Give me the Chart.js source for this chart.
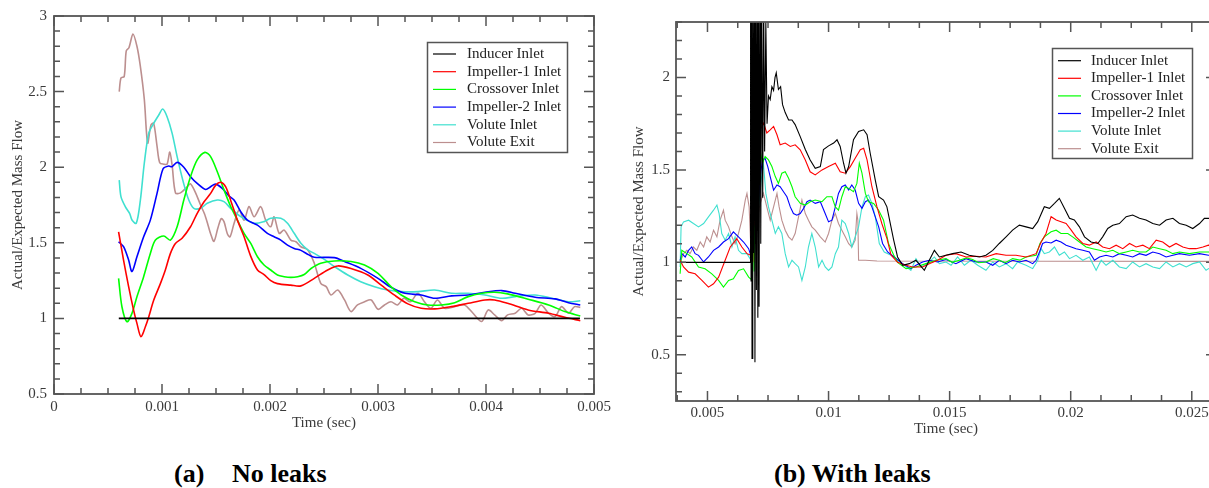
<!DOCTYPE html>
<html>
<head>
<meta charset="utf-8">
<title>Mass flow ratio</title>
<script src="https://cdn.jsdelivr.net/npm/chart.js@4.4.0/dist/chart.umd.min.js"></script>
<style>
  html, body { margin: 0; padding: 0; background: #fff; width: 1209px; height: 488px; overflow: hidden; }
  .panel { position: absolute; top: 0; width: 620px; height: 440px; }
  #panelA { left: 0; }
  #panelB { left: 620px; }
  .caption { position: absolute; top: 459px; font: bold 26px "Liberation Serif", "Times New Roman", serif; white-space: pre; color: #000; }
</style>
</head>
<body>
<div class="panel" id="panelA"><canvas id="chartA" width="620" height="440"></canvas></div>
<div class="panel" id="panelB"><canvas id="chartB" width="620" height="440"></canvas></div>
<div class="caption" style="left:174px">(a)</div>
<div class="caption" style="left:232px">No leaks</div>
<div class="caption" style="left:774px">(b) With leaks</div>
<script>
// Series labels and colours (same order in both panels)
const seriesNames = ['Inducer Inlet', 'Impeller-1 Inlet', 'Crossover Inlet', 'Impeller-2 Inlet', 'Volute Inlet', 'Volute Exit'];
const seriesColors = ['#000000', '#ff0000', '#00ff00', '#0000ff', '#40e0d0', '#bc8f8f'];

// ---- (a) No leaks : [time in ms, actual/expected] ----
const noLeakInducer = [[0.6, 1.0], [4.87, 1.0]];
const noLeakImpeller1 = [
  [0.598, 1.573], [0.644, 1.386], [0.691, 1.21], [0.737, 1.055], [0.768, 0.967], [0.805, 0.879], [0.846, 0.945],
  [0.877, 1.01], [0.923, 1.12], [0.985, 1.23], [1.031, 1.32], [1.078, 1.43], [1.124, 1.496], [1.186, 1.53],
  [1.264, 1.606], [1.326, 1.695], [1.388, 1.77], [1.45, 1.827], [1.496, 1.88], [1.543, 1.9], [1.59, 1.87],
  [1.636, 1.78], [1.698, 1.65], [1.76, 1.54], [1.822, 1.41], [1.884, 1.32], [1.945, 1.29], [2.007, 1.25],
  [2.069, 1.23], [2.193, 1.22], [2.286, 1.215], [2.41, 1.265], [2.534, 1.32], [2.627, 1.347], [2.75, 1.33],
  [2.906, 1.287], [3.03, 1.22], [3.15, 1.155], [3.277, 1.096], [3.4, 1.067], [3.525, 1.063], [3.68, 1.078],
  [3.835, 1.1], [3.99, 1.122], [4.08, 1.122], [4.2, 1.1], [4.39, 1.056], [4.58, 1.034], [4.73, 1.007], [4.873, 0.985]
];
const noLeakCrossover = [
  [0.598, 1.265], [0.629, 1.077], [0.676, 0.978], [0.722, 1.033], [0.768, 1.143], [0.83, 1.276], [0.892, 1.43],
  [0.939, 1.518], [1.016, 1.545], [1.078, 1.518], [1.14, 1.606], [1.202, 1.783], [1.264, 1.937], [1.326, 2.048],
  [1.397, 2.098], [1.45, 2.07], [1.512, 1.97], [1.574, 1.85], [1.636, 1.74], [1.698, 1.65], [1.76, 1.562],
  [1.822, 1.496], [1.884, 1.408], [1.945, 1.353], [2.007, 1.32], [2.069, 1.287], [2.131, 1.276], [2.193, 1.271],
  [2.256, 1.276], [2.317, 1.29], [2.38, 1.33], [2.47, 1.365], [2.596, 1.38], [2.75, 1.376], [2.875, 1.353],
  [3.0, 1.298], [3.12, 1.21], [3.215, 1.155], [3.34, 1.11], [3.46, 1.089], [3.587, 1.089], [3.71, 1.104],
  [3.835, 1.144], [3.96, 1.166], [4.08, 1.173], [4.2, 1.162], [4.39, 1.127], [4.58, 1.089], [4.73, 1.045], [4.873, 1.016]
];
const noLeakImpeller2 = [
  [0.598, 1.507], [0.644, 1.474], [0.691, 1.386], [0.722, 1.31], [0.768, 1.408], [0.83, 1.54], [0.892, 1.65],
  [0.954, 1.827], [1.01, 1.99], [1.062, 2.008], [1.093, 2.003], [1.14, 2.032], [1.202, 2.0], [1.264, 1.937],
  [1.326, 1.893], [1.404, 1.853], [1.45, 1.871], [1.496, 1.888], [1.558, 1.86], [1.62, 1.81], [1.667, 1.783],
  [1.729, 1.706], [1.791, 1.65], [1.884, 1.617], [1.976, 1.562], [2.038, 1.54], [2.1, 1.518], [2.162, 1.485],
  [2.224, 1.463], [2.286, 1.45], [2.36, 1.42], [2.41, 1.404], [2.596, 1.402], [2.69, 1.376], [2.84, 1.331],
  [3.0, 1.265], [3.12, 1.206], [3.25, 1.166], [3.4, 1.155], [3.525, 1.133], [3.68, 1.149], [3.835, 1.155],
  [3.99, 1.173], [4.145, 1.184], [4.27, 1.166], [4.455, 1.14], [4.64, 1.129], [4.764, 1.104], [4.873, 1.089]
];
const noLeakVoluteIn = [
  [0.604, 1.915], [0.62, 1.805], [0.66, 1.739], [0.7, 1.695], [0.722, 1.651], [0.762, 1.629], [0.8, 1.783],
  [0.836, 2.026], [0.877, 2.224], [0.923, 2.29], [0.97, 2.345], [1.007, 2.385], [1.047, 2.334], [1.094, 2.224],
  [1.14, 2.07], [1.2, 1.894], [1.248, 1.783], [1.295, 1.728], [1.357, 1.728], [1.419, 1.761], [1.512, 1.783],
  [1.574, 1.772], [1.636, 1.728], [1.729, 1.673], [1.852, 1.629], [1.945, 1.64], [2.007, 1.662], [2.1, 1.662],
  [2.162, 1.629], [2.224, 1.563], [2.286, 1.497], [2.35, 1.453], [2.41, 1.43], [2.51, 1.387], [2.596, 1.343],
  [2.72, 1.287], [2.84, 1.243], [2.968, 1.21], [3.09, 1.188], [3.215, 1.177], [3.37, 1.177], [3.525, 1.188],
  [3.68, 1.166], [3.835, 1.166], [3.99, 1.155], [4.145, 1.133], [4.27, 1.144], [4.455, 1.155], [4.61, 1.133],
  [4.764, 1.11], [4.873, 1.117]
];
const noLeakVoluteExit = [
  [0.604, 2.5], [0.62, 2.59], [0.65, 2.6], [0.669, 2.77], [0.694, 2.79], [0.731, 2.88], [0.768, 2.8],
  [0.799, 2.67], [0.836, 2.45], [0.867, 2.16], [0.898, 2.28], [0.923, 2.29], [0.954, 2.14], [0.979, 2.03],
  [1.016, 2.02], [1.047, 2.02], [1.072, 2.1], [1.094, 2.01], [1.125, 1.83], [1.171, 1.83], [1.233, 1.87],
  [1.264, 1.89], [1.311, 1.83], [1.357, 1.75], [1.394, 1.69], [1.425, 1.62], [1.45, 1.56], [1.481, 1.51],
  [1.518, 1.6], [1.549, 1.66], [1.574, 1.64], [1.605, 1.56], [1.63, 1.54], [1.667, 1.628], [1.714, 1.717],
  [1.76, 1.65], [1.806, 1.74], [1.853, 1.672], [1.914, 1.739], [1.96, 1.65], [2.007, 1.606], [2.038, 1.672],
  [2.085, 1.562], [2.131, 1.584], [2.193, 1.518], [2.24, 1.507], [2.286, 1.474], [2.35, 1.453], [2.41, 1.365],
  [2.47, 1.232], [2.52, 1.21], [2.565, 1.155], [2.627, 1.188], [2.69, 1.122], [2.75, 1.045], [2.81, 1.089],
  [2.875, 1.11], [2.937, 1.122], [3.0, 1.06], [3.06, 1.089], [3.12, 1.11], [3.18, 1.089], [3.24, 1.133],
  [3.3, 1.11], [3.37, 1.166], [3.43, 1.11], [3.49, 1.067], [3.55, 1.122], [3.617, 1.067], [3.71, 1.078],
  [3.8, 1.089], [3.88, 1.034], [3.96, 0.98], [4.02, 1.056], [4.08, 1.023], [4.145, 0.985], [4.2, 1.023],
  [4.27, 1.034], [4.33, 1.067], [4.39, 1.023], [4.455, 1.034], [4.51, 1.089], [4.58, 1.034], [4.64, 1.012],
  [4.7, 1.078], [4.764, 1.034], [4.82, 1.078], [4.873, 1.073]
];

// ---- (b) With leaks : [time in ms, actual/expected] ----
const leakInducer = [
  [3.87, 1.0], [6.76, 1.0], [6.78, 2.6], [6.8, 0.9], [6.82, 2.6], [6.84, 0.48], [6.87, 2.6], [6.9, 1.05],
  [6.93, 2.6], [6.96, 0.46], [6.99, 2.6], [7.02, 0.85], [7.05, 2.55], [7.08, 0.7], [7.11, 2.6], [7.13, 0.76],
  [7.17, 2.5], [7.2, 1.1], [7.24, 2.45], [7.28, 1.35], [7.32, 2.4], [7.36, 1.6], [7.41, 2.3], [7.46, 1.75],
  [7.52, 1.9], [7.59, 1.88], [7.66, 1.95], [7.73, 1.93], [7.79, 2.0], [7.84, 2.025], [7.93, 1.935], [8.02, 1.95],
  [8.1, 1.853], [8.21, 1.81], [8.35, 1.77], [8.49, 1.77], [8.62, 1.745], [8.83, 1.68], [9.04, 1.61], [9.24, 1.554],
  [9.45, 1.509], [9.66, 1.518], [9.79, 1.61], [10.0, 1.63], [10.21, 1.645], [10.35, 1.663], [10.48, 1.627],
  [10.62, 1.536], [10.72, 1.482], [10.83, 1.518], [11.03, 1.663], [11.24, 1.708], [11.45, 1.717], [11.59, 1.69],
  [11.72, 1.59], [11.93, 1.445], [12.07, 1.355], [12.27, 1.337], [12.41, 1.3], [12.55, 1.21], [12.69, 1.12],
  [12.85, 1.029], [13.06, 0.984], [13.335, 0.993], [13.61, 1.011], [13.955, 0.957], [14.16, 1.011], [14.37, 1.065],
  [14.575, 1.029], [14.85, 1.038], [15.125, 1.047], [15.47, 1.056], [15.81, 1.038], [16.23, 1.029],
  [16.5, 1.038], [16.78, 1.065], [17.05, 1.102], [17.33, 1.138], [17.6, 1.174], [17.88, 1.201], [18.155, 1.192],
  [18.43, 1.183], [18.64, 1.22], [18.91, 1.301], [19.12, 1.292], [19.33, 1.319], [19.53, 1.346], [19.74, 1.292],
  [19.95, 1.238], [20.15, 1.229], [20.36, 1.192], [20.57, 1.138], [20.84, 1.11], [21.12, 1.102], [21.32, 1.138],
  [21.53, 1.183], [21.74, 1.201], [22.01, 1.21], [22.29, 1.247], [22.56, 1.256], [22.84, 1.238], [23.11, 1.229],
  [23.39, 1.21], [23.67, 1.201], [23.94, 1.229], [24.22, 1.238], [24.49, 1.21], [24.77, 1.201], [25.04, 1.183],
  [25.32, 1.21], [25.52, 1.238], [25.69, 1.238], [26.0, 1.23]
];
const leakImpeller1 = [
  [3.87, 1.011], [4.01, 0.975], [4.22, 0.947], [4.49, 0.938], [4.77, 0.902], [5.04, 0.866], [5.25, 0.884],
  [5.46, 0.92], [5.73, 1.011], [5.94, 1.083], [6.21, 1.128], [6.42, 1.083], [6.63, 1.047], [6.8, 1.038],
  [6.84, 1.75], [6.87, 1.0], [6.9, 1.89], [6.93, 1.2], [6.97, 1.85], [7.0, 1.5], [7.04, 1.78], [7.08, 1.65],
  [7.12, 1.76], [7.18, 1.717], [7.32, 1.753], [7.45, 1.7], [7.59, 1.717], [7.73, 1.735], [7.87, 1.69],
  [8.0, 1.636], [8.21, 1.645], [8.42, 1.627], [8.62, 1.636], [8.83, 1.609], [9.04, 1.554], [9.24, 1.49],
  [9.45, 1.473], [9.73, 1.5], [10.0, 1.518], [10.28, 1.536], [10.48, 1.49], [10.69, 1.482], [10.9, 1.518],
  [11.1, 1.563], [11.31, 1.609], [11.45, 1.617], [11.59, 1.554], [11.79, 1.409], [12.0, 1.3], [12.2, 1.21],
  [12.41, 1.13], [12.58, 1.04], [12.85, 1.0], [13.2, 0.984], [13.47, 0.975], [13.885, 0.975], [14.16, 0.993],
  [14.5, 1.011], [14.85, 1.038], [15.26, 1.047], [15.675, 1.029], [16.09, 1.033], [16.5, 1.029], [16.92, 1.047],
  [17.33, 1.038], [17.74, 1.038], [18.155, 1.029], [18.57, 1.047], [18.78, 1.11], [18.98, 1.156], [19.19, 1.247],
  [19.4, 1.229], [19.6, 1.22], [19.81, 1.21], [20.02, 1.174], [20.22, 1.138], [20.5, 1.102], [20.77, 1.093],
  [21.05, 1.11], [21.32, 1.083], [21.6, 1.074], [21.875, 1.093], [22.15, 1.074], [22.43, 1.102], [22.7, 1.083],
  [22.98, 1.093], [23.25, 1.074], [23.53, 1.12], [23.8, 1.11], [24.08, 1.083], [24.35, 1.102], [24.63, 1.083],
  [24.9, 1.074], [25.18, 1.074], [25.46, 1.083], [25.69, 1.093], [26.0, 1.09]
];
const leakCrossover = [
  [3.87, 0.938], [3.94, 1.065], [4.15, 1.047], [4.35, 1.029], [4.63, 0.975], [4.9, 0.965], [5.18, 0.938],
  [5.46, 0.902], [5.66, 0.866], [5.87, 0.902], [6.07, 0.911], [6.28, 0.956], [6.49, 0.965], [6.7, 0.92],
  [6.86, 0.902], [6.9, 1.3], [6.93, 0.95], [6.97, 1.5], [7.01, 1.3], [7.05, 1.55], [7.1, 1.45], [7.18, 1.6],
  [7.27, 1.536], [7.38, 1.572], [7.52, 1.554], [7.66, 1.518], [7.8, 1.464], [7.93, 1.427], [8.07, 1.482],
  [8.21, 1.49], [8.35, 1.455], [8.49, 1.409], [8.62, 1.355], [8.83, 1.319], [9.04, 1.31], [9.24, 1.328],
  [9.45, 1.337], [9.73, 1.328], [9.93, 1.355], [10.14, 1.355], [10.28, 1.3], [10.41, 1.282], [10.55, 1.355],
  [10.69, 1.409], [10.83, 1.4], [11.03, 1.382], [11.17, 1.427], [11.27, 1.536], [11.38, 1.482], [11.52, 1.373],
  [11.65, 1.328], [11.86, 1.319], [12.07, 1.282], [12.27, 1.228], [12.48, 1.1], [12.69, 1.04], [12.85, 1.0],
  [13.2, 0.966], [13.61, 0.975], [14.02, 0.993], [14.44, 1.011], [14.85, 1.02], [15.1, 1.0], [15.4, 1.011],
  [15.7, 1.024], [15.95, 1.015], [16.2, 0.998], [16.5, 1.002], [16.8, 1.02], [17.05, 1.011], [17.3, 0.998],
  [17.6, 1.02], [17.9, 1.012], [18.155, 1.029], [18.57, 1.038], [18.73, 1.102], [18.91, 1.138], [19.19, 1.165],
  [19.4, 1.174], [19.6, 1.156], [19.88, 1.156], [20.08, 1.138], [20.36, 1.11], [20.635, 1.083], [20.91, 1.074],
  [21.19, 1.065], [21.46, 1.056], [21.74, 1.065], [22.01, 1.047], [22.29, 1.056], [22.56, 1.065], [22.84, 1.056],
  [23.11, 1.056], [23.39, 1.083], [23.67, 1.074], [23.94, 1.065], [24.22, 1.047], [24.49, 1.056], [24.9, 1.047],
  [25.32, 1.056], [25.69, 1.056], [26.0, 1.05]
];
const leakImpeller2 = [
  [3.87, 1.011], [3.94, 1.047], [4.08, 1.029], [4.22, 1.065], [4.35, 1.083], [4.49, 1.047], [4.63, 1.038],
  [4.84, 1.002], [5.04, 1.029], [5.25, 1.065], [5.46, 1.083], [5.66, 1.11], [5.87, 1.128], [6.07, 1.165],
  [6.28, 1.138], [6.49, 1.11], [6.7, 1.074], [6.83, 1.02], [6.97, 1.138], [7.08, 1.3], [7.18, 1.464],
  [7.27, 1.554], [7.38, 1.563], [7.49, 1.518], [7.59, 1.464], [7.73, 1.39], [7.87, 1.418], [8.0, 1.409],
  [8.14, 1.382], [8.28, 1.355], [8.42, 1.3], [8.55, 1.264], [8.69, 1.255], [8.83, 1.264], [8.97, 1.292],
  [9.11, 1.328], [9.24, 1.337], [9.45, 1.319], [9.66, 1.328], [9.86, 1.264], [10.0, 1.219], [10.14, 1.228],
  [10.28, 1.3], [10.41, 1.373], [10.55, 1.409], [10.69, 1.418], [10.83, 1.391], [10.96, 1.418], [11.1, 1.391],
  [11.24, 1.319], [11.38, 1.292], [11.52, 1.328], [11.65, 1.337], [11.79, 1.3], [11.93, 1.246], [12.07, 1.192],
  [12.23, 1.102], [12.44, 1.056], [12.71, 1.029], [13.06, 0.993], [13.4, 0.966], [13.61, 0.984], [13.885, 1.002],
  [14.16, 1.011], [14.5, 1.002], [14.85, 1.015], [15.26, 0.993], [15.675, 1.02], [16.09, 1.002], [16.5, 1.002],
  [16.78, 0.984], [17.05, 1.011], [17.33, 0.993], [17.6, 1.011], [17.88, 1.002], [18.155, 1.011], [18.43, 0.993],
  [18.57, 1.011], [18.71, 1.056], [18.84, 1.102], [18.98, 1.11], [19.19, 1.105], [19.4, 1.12], [19.6, 1.11],
  [19.81, 1.093], [20.02, 1.083], [20.22, 1.074], [20.5, 1.065], [20.77, 1.056], [20.98, 1.011], [21.19, 1.029],
  [21.46, 1.038], [21.74, 1.029], [22.01, 1.047], [22.29, 1.038], [22.56, 1.029], [22.84, 1.047], [23.11, 1.038],
  [23.39, 1.056], [23.67, 1.047], [23.94, 1.029], [24.22, 1.038], [24.49, 1.047], [24.9, 1.038], [25.32, 1.047],
  [25.69, 1.038], [26.0, 1.04]
];
const leakVoluteIn = [
  [3.87, 0.975], [3.91, 1.192], [4.01, 1.219], [4.22, 1.228], [4.42, 1.21], [4.63, 1.192], [4.84, 1.21],
  [5.04, 1.246], [5.25, 1.282], [5.39, 1.31], [5.48, 1.264], [5.59, 1.156], [5.73, 1.12], [5.87, 1.156],
  [6.01, 1.083], [6.14, 1.138], [6.28, 1.065], [6.42, 1.047], [6.63, 1.047], [6.8, 1.011], [6.9, 1.138],
  [7.0, 1.156], [7.11, 1.3], [7.22, 1.446], [7.31, 1.536], [7.41, 1.373], [7.52, 1.3], [7.66, 1.228],
  [7.8, 1.156], [7.93, 1.192], [8.07, 1.156], [8.21, 1.047], [8.35, 0.975], [8.49, 1.011], [8.62, 0.993],
  [8.76, 0.975], [8.9, 0.902], [9.04, 0.975], [9.17, 1.083], [9.31, 1.156], [9.45, 1.083], [9.59, 0.975],
  [9.73, 1.011], [9.86, 0.975], [10.0, 0.956], [10.14, 0.975], [10.28, 1.047], [10.41, 1.083], [10.55, 1.228],
  [10.69, 1.21], [10.83, 1.156], [10.96, 1.083], [11.1, 1.138], [11.24, 1.192], [11.38, 1.3], [11.52, 1.355],
  [11.65, 1.364], [11.79, 1.319], [11.93, 1.246], [12.095, 1.102], [12.3, 1.056], [12.58, 1.038], [12.85, 1.011],
  [13.13, 0.984], [13.4, 0.957], [13.61, 1.02], [13.82, 0.975], [14.09, 0.993], [14.37, 1.029], [14.575, 0.993],
  [14.85, 1.002], [15.06, 0.984], [15.33, 1.029], [15.61, 0.984], [15.88, 1.011], [16.16, 0.984], [16.5, 0.957],
  [16.78, 1.002], [17.05, 0.975], [17.33, 0.993], [17.6, 0.966], [17.81, 1.002], [18.155, 0.984], [18.43, 0.966],
  [18.64, 1.011], [18.78, 1.074], [18.91, 1.047], [19.12, 1.056], [19.33, 1.083], [19.53, 1.038], [19.74, 1.056],
  [19.95, 1.02], [20.22, 1.038], [20.5, 1.011], [20.77, 1.029], [21.05, 0.957], [21.26, 1.011], [21.46, 0.984],
  [21.74, 1.011], [22.01, 0.975], [22.29, 0.966], [22.56, 1.002], [22.84, 0.975], [23.11, 0.993], [23.39, 0.975],
  [23.67, 0.966], [23.94, 1.002], [24.22, 0.975], [24.49, 0.993], [24.77, 0.975], [25.04, 0.993], [25.32, 1.002],
  [25.59, 0.957], [25.69, 0.966], [26.0, 0.98]
];
const leakVoluteExit = [
  [3.87, 1.0], [4.01, 1.047], [4.15, 1.065], [4.28, 1.047], [4.42, 1.083], [4.56, 1.065], [4.7, 1.11],
  [4.84, 1.083], [4.97, 1.138], [5.11, 1.11], [5.25, 1.174], [5.39, 1.138], [5.52, 1.228], [5.66, 1.282],
  [5.73, 1.228], [5.87, 1.192], [6.01, 1.138], [6.14, 1.101], [6.28, 1.156], [6.42, 1.228], [6.56, 1.337],
  [6.63, 1.373], [6.72, 1.3], [6.8, 1.047], [6.9, 1.138], [7.04, 1.228], [7.18, 1.319], [7.31, 1.373],
  [7.45, 1.3], [7.59, 1.228], [7.73, 1.3], [7.87, 1.373], [7.96, 1.3], [8.07, 1.228], [8.21, 1.174],
  [8.35, 1.138], [8.49, 1.12], [8.62, 1.156], [8.76, 1.246], [8.9, 1.337], [9.04, 1.264], [9.17, 1.228],
  [9.31, 1.192], [9.45, 1.174], [9.66, 1.138], [9.86, 1.11], [10.0, 1.156], [10.14, 1.228], [10.28, 1.264],
  [10.41, 1.21], [10.55, 1.174], [10.69, 1.138], [10.83, 1.101], [10.96, 1.083], [11.1, 1.12], [11.17, 1.264],
  [11.21, 1.228], [11.24, 1.011], [11.52, 1.011], [12.0, 1.007], [26.0, 1.005]
];

const noLeakSeries = [noLeakInducer, noLeakImpeller1, noLeakCrossover, noLeakImpeller2, noLeakVoluteIn, noLeakVoluteExit];
const leakSeries = [leakInducer, leakImpeller1, leakCrossover, leakImpeller2, leakVoluteIn, leakVoluteExit];

const serif = 'Liberation Serif';
const textColor = '#3a3a3a';

// frame around the plot with inward major/minor ticks on all four sides
const frameTicks = {
  id: 'frameTicks',
  afterDraw(chart, args, o) {
    const {ctx, chartArea: a} = chart;
    const xs = chart.scales.x, ys = chart.scales.y;
    ctx.save();
    ctx.strokeStyle = o.color;
    ctx.lineWidth = 1.5;
    ctx.beginPath();
    for (let i = Math.ceil(xs.min / o.xMinor - 1e-6); i * o.xMinor <= xs.max + 1e-9; i++) {
      const px = xs.getPixelForValue(i * o.xMinor);
      const len = i % o.xRatio === 0 ? o.major : o.minor;
      ctx.moveTo(px, a.bottom); ctx.lineTo(px, a.bottom - len);
      ctx.moveTo(px, a.top); ctx.lineTo(px, a.top + len);
    }
    for (let i = Math.ceil(ys.min / o.yMinor - 1e-6); i * o.yMinor <= ys.max + 1e-9; i++) {
      const py = ys.getPixelForValue(i * o.yMinor);
      const len = i % o.yRatio === 0 ? o.major : o.minor;
      ctx.moveTo(a.left, py); ctx.lineTo(a.left + len, py);
      ctx.moveTo(a.right, py); ctx.lineTo(a.right - len, py);
    }
    ctx.stroke();
    ctx.lineWidth = 1.8;
    ctx.strokeRect(a.left, a.top, a.right - a.left, a.bottom - a.top);
    ctx.restore();
  }
};

// boxed legend placed inside the plot
const boxLegend = {
  id: 'boxLegend',
  afterDraw(chart, args, o) {
    const {ctx} = chart;
    ctx.save();
    ctx.fillStyle = '#fff';
    ctx.fillRect(o.left, o.top, o.width, o.height);
    ctx.strokeStyle = '#555';
    ctx.lineWidth = 1.5;
    ctx.strokeRect(o.left, o.top, o.width, o.height);
    ctx.font = '15px "' + serif + '"';
    ctx.textBaseline = 'middle';
    chart.data.datasets.forEach((ds, i) => {
      const y = o.firstRow + i * o.rowGap;
      ctx.strokeStyle = ds.borderColor;
      ctx.lineWidth = 1.2;
      ctx.beginPath();
      ctx.moveTo(o.lineFrom, y); ctx.lineTo(o.lineTo, y);
      ctx.stroke();
      ctx.fillStyle = '#222';
      ctx.fillText(ds.label, o.textX, y);
    });
    ctx.restore();
  }
};

function fmt(v) {
  return String(parseFloat(v.toFixed(4)));
}

function makePanel(id, series, cfg) {
  const datasets = series.map((pts, i) => ({
    label: seriesNames[i],
    data: pts.map(([t, v]) => ({x: t / 1000, y: v})),
    borderColor: seriesColors[i],
    borderWidth: cfg.lineWidth,
    pointRadius: 0,
    tension: cfg.tension,
    fill: false
  }));
  return new Chart(document.getElementById(id), {
    type: 'line',
    data: {datasets},
    plugins: [frameTicks, boxLegend],
    options: {
      responsive: false,
      animation: false,
      devicePixelRatio: 1,
      events: [],
      layout: {padding: cfg.padding},
      plugins: {
        legend: {display: false},
        tooltip: {enabled: false},
        frameTicks: cfg.frame,
        boxLegend: cfg.legend
      },
      scales: {
        x: {
          type: 'linear',
          min: cfg.xMin, max: cfg.xMax,
          grid: {display: false, drawTicks: false},
          border: {display: false},
          ticks: {stepSize: cfg.xStep, includeBounds: false, autoSkip: false, maxRotation: 0, padding: cfg.xLabelPad,
                  color: textColor, font: {family: serif, size: 15}, callback: fmt},
          title: {display: true, text: 'Time (sec)', color: textColor, font: {family: serif, size: 15},
                  padding: {top: 0, bottom: cfg.xTitlePad}},
          afterFit: s => { s.height = cfg.xAxisHeight; }
        },
        y: {
          type: 'linear',
          min: cfg.yMin, max: cfg.yMax,
          grid: {display: false, drawTicks: false},
          border: {display: false},
          ticks: {stepSize: 0.5, includeBounds: false, padding: cfg.yLabelPad,
                  color: textColor, font: {family: serif, size: 15}, callback: fmt},
          title: {display: true, text: 'Actual/Expected Mass Flow', color: textColor, font: {family: serif, size: 15},
                  padding: {top: cfg.yTitlePad, bottom: 0}},
          afterFit: s => { s.width = cfg.yAxisWidth; }
        }
      }
    }
  });
}

makePanel('chartA', noLeakSeries, {
  xMin: 0, xMax: 0.005, xStep: 0.001, yMin: 0.5, yMax: 3,
  padding: {top: 16, right: 26, left: 0, bottom: 0},
  xAxisHeight: 46, yAxisWidth: 54, xLabelPad: 4, yLabelPad: 7, xTitlePad: 8, yTitlePad: 9,
  lineWidth: 1.6, tension: 0.3,
  frame: {color: '#555', major: 10, minor: 6, xMinor: 0.00025, xRatio: 4, yMinor: 0.1, yRatio: 5},
  legend: {left: 427.5, top: 42.5, width: 140, height: 110, firstRow: 54, rowGap: 17.7, lineFrom: 433, lineTo: 456, textX: 467}
});

makePanel('chartB', leakSeries, {
  xMin: 0.0037, xMax: 0.026, xStep: 0.005, yMin: 0.25, yMax: 2.3,
  padding: {top: 22, right: 24, left: 0, bottom: 0},
  xAxisHeight: 39, yAxisWidth: 56, xLabelPad: 3, yLabelPad: 6, xTitlePad: 2, yTitlePad: 10,
  lineWidth: 1.1, tension: 0,
  frame: {color: '#555', major: 10, minor: 6, xMinor: 0.00125, xRatio: 4, yMinor: 0.1, yRatio: 5},
  legend: {left: 432.5, top: 48.5, width: 140, height: 110, firstRow: 60.7, rowGap: 17.6, lineFrom: 438, lineTo: 461, textX: 471}
});
</script>
</body>
</html>
